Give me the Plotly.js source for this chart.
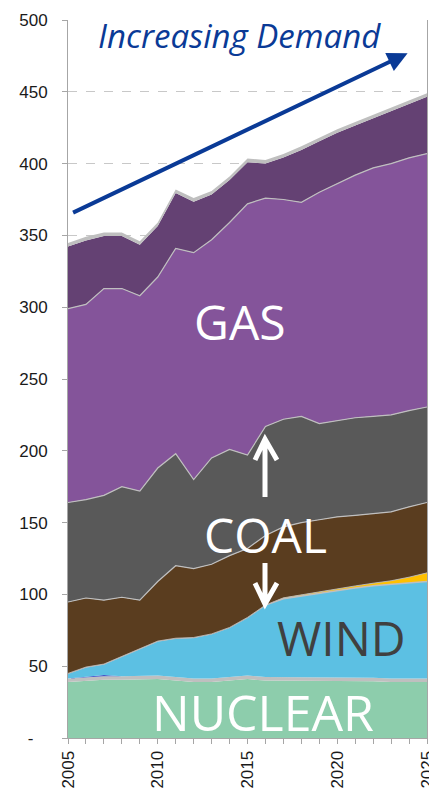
<!DOCTYPE html>
<html>
<head>
<meta charset="utf-8">
<script src="https://cdn.plot.ly/plotly-3.0.1.min.js"></script>
<style>html,body{margin:0;padding:0;background:#fff;}#chart{width:429px;height:790px;}</style>
</head>
<body>
<div id="chart"></div>
<script>
// ---- data (GW by year, stacked layer thicknesses) ----
const years = [2005,2006,2007,2008,2009,2010,2011,2012,2013,2014,2015,2016,2017,2018,2019,2020,2021,2022,2023,2024,2025];
const nuclear   = [39,40,40.5,40.5,40.5,41,40,39,39,40,41,40,40,40,40,40,39.5,39.5,39,39,39];
const otherLow  = [2.5,2.5,2.5,2.5,2.5,2.5,2.5,2.5,2.5,2.5,2.5,2.5,2.5,2.5,2.5,2.5,2.5,2.5,2.5,2.5,2.5];
const hydro     = [0,0,0.8,0,0,0,0,0,0,0,0,0,0,0,0,0,0,0,0,0,0];
const wind      = [3.5,6.9,7.7,14,19,24,27,28.5,31,34.5,40.5,50.1,54.5,56.5,58.5,60.5,62.5,64,65.5,66.5,67.5];
const solar     = [0,0,0,0,0,0,0,0,0,0,0,0,0.6,0.8,1,1.2,1.4,1.8,2.5,4,6];
const coalBrown = [49.7,48.1,44.5,41,34,41.5,50.5,48,48.5,50,48,48.4,49.4,50.2,50,49.8,49.1,48.7,48,49,49];
const coalGray  = [69.3,68.5,73,77,76,79,78,62,74,74,65,76,75,74,67,67,68,67.5,67.5,67,66.5];
const gas       = [135,136,144,138,136,133,143,158,152,158,175,159,153,149,161,165,169,173,175,176,176.5];
const gasPeak   = [43.2,44.5,36.5,36.5,35.5,35.5,38.5,35.5,31.5,29.5,29,24,29.2,36.5,35.5,35.5,34.5,34.5,36.5,37.5,39.5];
const otherTop  = [2.5,2.5,2.5,2.5,2.5,2.5,2.5,2.5,2.5,2.5,2.5,2.5,2.5,2.5,2.5,2.5,2.5,2.5,2.5,2.5,2.5];

const yTickVals = [0,50,100,150,200,250,300,350,400,450,500];
const yTickText = ['-\u00a0\u00a0\u00a0','50','100','150','200','250','300','350','400','450','500'];
const xTickText = years.map(y => (y % 5 === 0 ? String(y) : ''));

const layers = [
  {name:'Nuclear', y:nuclear, fill:'#8DCDAC', line:'#BFBFBF', w:0},
  {name:'Other', y:otherLow, fill:'#BFBFBF', line:'#BFBFBF', w:0},
  {name:'Hydro', y:hydro, fill:'#3F4FC4', line:'#3F4FC4', w:0},
  {name:'Wind', y:wind, fill:'#5CC0E3', line:'#BFBFBF', w:1.5},
  {name:'Solar', y:solar, fill:'#FFC000', line:'#BFBFBF', w:0.8},
  {name:'Coal (brown)', y:coalBrown, fill:'#5A3D1F', line:'#BFBFBF', w:1.2},
  {name:'Coal', y:coalGray, fill:'#595959', line:'#BFBFBF', w:1.2},
  {name:'Gas', y:gas, fill:'#84549A', line:'#BFBFBF', w:1.2},
  {name:'Gas peak', y:gasPeak, fill:'#644173', line:'#BFBFBF', w:0},
  {name:'Other top', y:otherTop, fill:'#BFBFBF', line:'#BFBFBF', w:0}
];

const traces = layers.map(L => ({
  type:'scatter', mode:'lines', x:years, y:L.y, name:L.name,
  stackgroup:'one', fillcolor:L.fill,
  line:{color:L.line, width:L.w, shape:'linear'},
  hoverinfo:'skip'
}));

const labelFont = {family:'"Open Sans", sans-serif', size:48, color:'#FFFFFF'};

const layout = {
  width:429, height:790,
  margin:{l:68, r:2, t:20, b:52, pad:0},
  paper_bgcolor:'#FFFFFF', plot_bgcolor:'#FFFFFF',
  showlegend:false,
  xaxis:{
    range:[2005,2025], tickmode:'array', tickvals:years, ticktext:xTickText,
    tickangle:-90, ticks:'outside', ticklen:5, tickcolor:'#A6A6A6',
    showline:true, linecolor:'#A6A6A6', linewidth:1, showgrid:false, zeroline:false,
    tickfont:{family:'"Liberation Sans", Arial, sans-serif', size:17, color:'#1A1A1A'},
    ticklabeloverflow:'allow', automargin:false, fixedrange:true
  },
  yaxis:{
    range:[0,500], tickmode:'array', tickvals:yTickVals, ticktext:yTickText,
    ticks:'outside', ticklen:5, tickcolor:'#A6A6A6', ticklabelstandoff:11,
    showline:true, mirror:true, linecolor:'#A6A6A6', linewidth:1,
    showgrid:true, gridcolor:'#C8C8C8', griddash:'dash', gridwidth:1, zeroline:false,
    tickfont:{family:'"Liberation Sans", Arial, sans-serif', size:17, color:'#1A1A1A'},
    automargin:false, fixedrange:true
  },
  annotations:[
    {x:2014.53, y:489, xref:'x', yref:'y', text:'<i>Increasing Demand</i>', showarrow:false,
     font:{family:'"Open Sans", sans-serif', size:33, color:'#0A3A96'}, xanchor:'center', yanchor:'middle'},
    {x:2023.92, y:476.8, ax:2005.2, ay:365.4, xref:'x', yref:'y', axref:'x', ayref:'y', text:'',
     showarrow:true, arrowhead:2, arrowsize:1, arrowwidth:4, arrowcolor:'#0A3A96'},
    {x:2014.58, y:289.7, xref:'x', yref:'y', text:'GAS', showarrow:false, font:labelFont, xanchor:'center', yanchor:'middle'},
    {x:2016.0, y:141.4, xref:'x', yref:'y', text:'COAL', showarrow:false, font:labelFont, xanchor:'center', yanchor:'middle'},
    {x:2020.25, y:70.3, xref:'x', yref:'y', text:'WIND', showarrow:false,
     font:{family:'"Open Sans", sans-serif', size:48, color:'#404040'}, xanchor:'center', yanchor:'middle'},
    {x:2015.86, y:18.1, xref:'x', yref:'y', text:'NUCLEAR', showarrow:false,
     font:{family:'"Open Sans", sans-serif', size:50, color:'#FFFFFF'}, xanchor:'center', yanchor:'middle'}
  ],
  shapes:[
    {type:'path', xref:'x', yref:'y', layer:'above',
     path:'M 2015.975,167.8 L 2015.975,207.5 M 2015.418,193.6 L 2015.975,208.2 L 2016.643,193.6',
     line:{color:'#FFFFFF', width:5}},
    {type:'path', xref:'x', yref:'y', layer:'above',
     path:'M 2015.975,121.9 L 2015.975,94.0 M 2015.418,107.9 L 2015.975,93.3 L 2016.643,107.9',
     line:{color:'#FFFFFF', width:5}}
  ]
};

Plotly.newPlot('chart', traces, layout, {displayModeBar:false, staticPlot:true});
</script>
</body>
</html>
